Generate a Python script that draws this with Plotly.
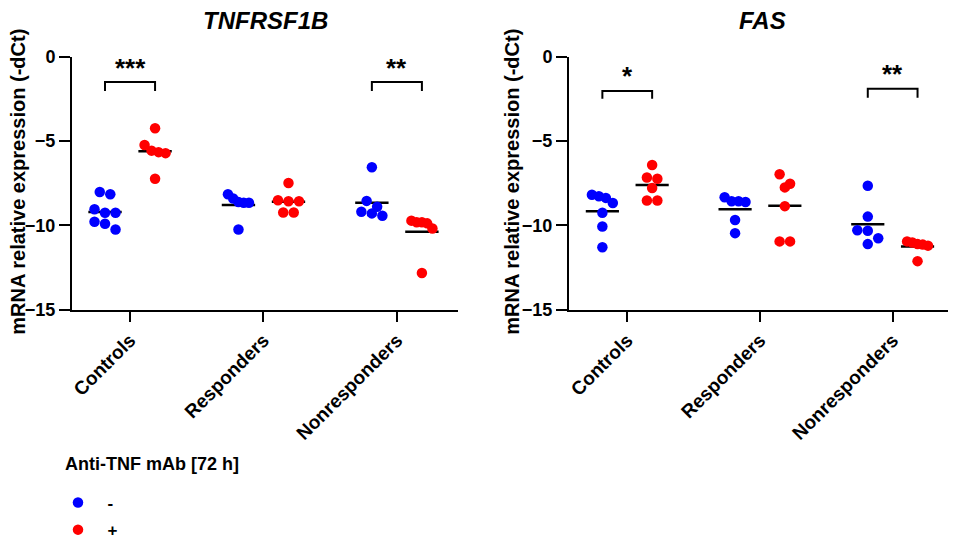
import plotly.graph_objects as go

# categories and groups
groups = ["Controls", "Responders", "Nonresponders"]
panels = ["TNFRSF1B", "FAS"]

# -dCt values, one list per group
tnfrsf1b_minus = [
    [-8.02, -8.16, -9.04, -9.25, -9.25, -9.78, -9.90, -10.24],
    [-8.16, -8.41, -8.61, -8.66, -8.66, -10.24],
    [-6.55, -8.55, -8.90, -9.19, -9.29, -9.43],
]
tnfrsf1b_plus = [
    [-4.24, -5.24, -5.57, -5.66, -5.72, -7.24],
    [-7.49, -8.51, -8.57, -8.57, -9.24, -9.24],
    [-9.72, -9.82, -9.82, -9.88, -10.18, -12.82],
]
fas_minus = [
    [-8.18, -8.27, -8.37, -8.67, -9.25, -10.07, -11.30],
    [-8.33, -8.57, -8.57, -8.61, -9.68, -10.46],
    [-7.65, -9.48, -10.29, -10.32, -10.76, -11.11],
]
fas_plus = [
    [-6.42, -7.16, -7.24, -7.79, -8.53, -8.53],
    [-6.97, -7.53, -7.75, -8.86, -10.95, -10.95],
    [-10.95, -11.01, -11.11, -11.14, -11.20, -12.12],
]

# significance marks: (label, group index)
tnfrsf1b_sig = [("***", 0), ("**", 2)]
fas_sig = [("*", 0), ("**", 2)]

BLUE = "#0000ff"
RED = "#ff0000"
FONT = "Arial, Liberation Sans, sans-serif"
W, H = 957, 540
PAD = 8             # the page body shifts the figure by 8px
PX_UNIT = 17.0      # pixels per -dCt unit
PX_CAT = 133.3      # pixels per category
SIDE = 0.1875       # offset of -/+ columns from the category tick
HALF_BAR = 0.125    # half width of the mean bar


def px(x):
    return (x - PAD) / W


def py(y):
    return 1 - (y - PAD) / H


def swarm(vals, diam=10.5, max_half=10.5):
    # lay out near-equal values side by side, like a GraphPad scatter
    order = sorted(range(len(vals)), key=lambda i: -vals[i])
    rows = []
    for i in order:
        if rows and vals[rows[-1][0]] - vals[i] <= diam / PX_UNIT:
            rows[-1].append(i)
        else:
            rows.append([i])
    off = [0.0] * len(vals)
    for row in rows:
        k = len(row)
        if k < 2:
            continue
        step = min(diam, 2 * max_half / (k - 1))
        for j, i in enumerate(row):
            off[i] = (j - (k - 1) / 2) * step / PX_CAT
    return off


fig = go.Figure()

panel_data = [(tnfrsf1b_minus, tnfrsf1b_plus, "x", "y"), (fas_minus, fas_plus, "x2", "y2")]
for p, (minus, plus, xa, ya) in enumerate(panel_data):
    # mean bars
    bx, by = [], []
    for g in range(len(groups)):
        for side, vals in ((-SIDE, minus[g]), (SIDE, plus[g])):
            m = sum(vals) / len(vals)
            bx += [g + side - HALF_BAR, g + side + HALF_BAR, None]
            by += [m, m, None]
    fig.add_trace(go.Scatter(x=bx, y=by, mode="lines", line=dict(color="black", width=2.5),
                             xaxis=xa, yaxis=ya, showlegend=False, hoverinfo="skip"))
    for name, side, color, series in (("-", -SIDE, BLUE, minus), ("+", SIDE, RED, plus)):
        xs, ys = [], []
        for g, vals in enumerate(series):
            off = swarm(vals)
            xs += [g + side + o for o in off]
            ys += vals
        fig.add_trace(go.Scatter(x=xs, y=ys, mode="markers", name="\u00a0\u00a0" + name,
                                 marker=dict(color=color, size=10.5),
                                 xaxis=xa, yaxis=ya, legendgroup=name, showlegend=(p == 0)))

# significance brackets: (bar, leg end, star centre)
bracket_geo = [
    [(-1.51, -2.04, -0.68), (-1.51, -2.04, -0.68)],
    [(-2.04, -2.49, -1.12), (-1.90, -2.43, -1.0)],
]
for p, sig in enumerate((tnfrsf1b_sig, fas_sig)):
    xa = "x" if p == 0 else "x2"
    ya = "y" if p == 0 else "y2"
    for (label, g), (top, leg, ty) in zip(sig, bracket_geo[p]):
        fig.add_shape(type="path", xref=xa, yref=ya,
                      path=f"M {g - SIDE},{leg} L {g - SIDE},{top} L {g + SIDE},{top} L {g + SIDE},{leg}",
                      line=dict(color="black", width=2))
        fig.add_annotation(x=g, y=ty, xref=xa, yref=ya, text=label, showarrow=False,
                           yanchor="middle",
                           font=dict(family=FONT, size=26, color="black", weight="bold"))

axis_common = dict(showline=True, linecolor="black", linewidth=2, ticks="outside",
                   tickwidth=2, tickcolor="black", showgrid=False, zeroline=False,
                   automargin=False, fixedrange=True)
xaxis_common = dict(axis_common, tickmode="array", tickvals=list(range(len(groups))),
                    ticktext=groups, tickangle=-45, ticklen=10,
                    tickfont=dict(family=FONT, size=19, color="black", weight="bold"))
yaxis_common = dict(axis_common, range=[-15, 0], tickvals=[0, -5, -10, -15], ticklen=11,
                    tickfont=dict(family=FONT, size=18, color="black", weight="bold"))

y_dom = [py(312), py(57)]
fig.update_layout(
    width=W, height=H,
    margin=dict(l=0, r=0, t=0, b=0),
    plot_bgcolor="white", paper_bgcolor="white",
    xaxis=dict(xaxis_common, domain=[px(72), px(458)], range=[-0.435, 2.458], anchor="y"),
    yaxis=dict(yaxis_common, domain=y_dom, anchor="x"),
    xaxis2=dict(xaxis_common, domain=[px(569), px(948)], range=[-0.439, 2.417], anchor="y2"),
    yaxis2=dict(yaxis_common, domain=y_dom, anchor="x2"),
    legend=dict(x=px(58), y=py(489), xanchor="left", yanchor="top",
                font=dict(family=FONT, size=17, color="black", weight="bold"),
                tracegroupgap=2, bgcolor="rgba(0,0,0,0)"),
)

# legend heading
fig.add_annotation(x=px(63), y=py(467), xref="paper", yref="paper", text="Anti-TNF mAb [72 h]",
                   showarrow=False, xanchor="left", yanchor="middle",
                   font=dict(family=FONT, size=18, color="black", weight="bold"))

# panel titles and y axis titles
for cx, title, ytx in ((265, panels[0], 18), (762, panels[1], 512)):
    fig.add_annotation(x=px(cx), y=py(21), xref="paper", yref="paper", text=title,
                       showarrow=False, xanchor="center", yanchor="middle",
                       font=dict(family=FONT, size=24, color="black", weight="bold", style="italic"))
    fig.add_annotation(x=px(ytx), y=py(183), xref="paper", yref="paper",
                       text="mRNA relative expression (-dCt)", textangle=-90,
                       showarrow=False, xanchor="center", yanchor="middle",
                       font=dict(family=FONT, size=20, color="black", weight="bold"))

fig.write_html("out.html")
